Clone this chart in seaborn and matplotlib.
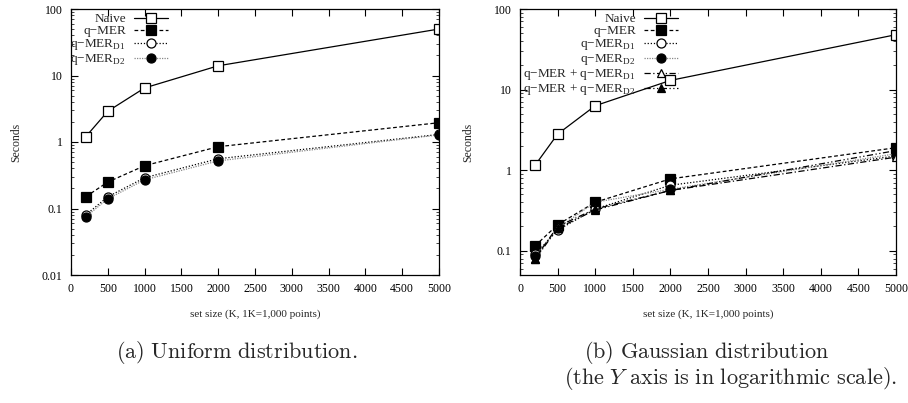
import numpy as np
import pandas as pd
import matplotlib
matplotlib.use("Agg")
import matplotlib.pyplot as plt
import seaborn as sns
from matplotlib.ticker import LogLocator, NullFormatter, FixedLocator

sizes = [200, 500, 1000, 2000, 5000]

# (a) Uniform
uni_naive = [1.2, 2.9, 6.5, 14.0, 50.0]
uni_qmer = [0.15, 0.25, 0.44, 0.85, 1.95]
uni_d1 = [0.08, 0.15, 0.29, 0.56, 1.30]
uni_d2 = [0.075, 0.14, 0.27, 0.52, 1.28]

# (b) Gaussian
gau_naive = [1.15, 2.8, 6.3, 13.0, 48.0]
gau_qmer = [0.115, 0.21, 0.40, 0.78, 1.90]
gau_d1 = [0.09, 0.18, 0.33, 0.65, 1.50]
gau_d2 = [0.085, 0.19, 0.40, 0.58, 1.60]
gau_qd1 = [0.080, 0.20, 0.33, 0.56, 1.45]
gau_qd2 = [0.078, 0.19, 0.32, 0.56, 1.75]

labels = ["Naive", "q\u2212MER", "q\u2212MER$_{\\mathrm{D1}}$", "q\u2212MER$_{\\mathrm{D2}}$",
          "q\u2212MER + q\u2212MER$_{\\mathrm{D1}}$", "q\u2212MER + q\u2212MER$_{\\mathrm{D2}}$"]
xticks = [0, 500, 1000, 1500, 2000, 2500, 3000, 3500, 4000, 4500, 5000]

sns.set_style("ticks")
plt.rcParams["font.family"] = ["Liberation Serif", "DejaVu Serif"]
plt.rcParams["mathtext.fontset"] = "custom"
plt.rcParams["mathtext.rm"] = "Liberation Serif"

styles = [
    dict(linestyle="-", marker="s", mfc="white", color="black"),
    dict(linestyle=(0, (3, 2)), marker="s", mfc="black", color="black"),
    dict(linestyle=(0, (1, 1.5)), marker="o", mfc="white", color="black"),
    dict(linestyle=(0, (1, 1)), marker="o", mfc="black", color="#888888"),
    dict(linestyle=(0, (5, 2, 1, 2)), marker="^", mfc="white", color="black"),
    dict(linestyle=(0, (5, 2, 1, 2, 1, 2)), marker="^", mfc="black", color="black"),
]

fig = plt.figure(figsize=(9.08, 4.03), dpi=100)
W, H = 908, 403
axL = fig.add_axes([71 / W, (H - 275) / H, (439 - 71) / W, (275 - 9) / H])
axR = fig.add_axes([520 / W, (H - 275) / H, (896 - 520) / W, (275 - 9) / H])


def draw(ax, series, ylim, yticks, yticklabels, leg_anchor):
    for i, vals in enumerate(series):
        st = styles[i]
        df = pd.DataFrame({"x": sizes, "y": vals})
        sns.lineplot(data=df, x="x", y="y", ax=ax, color=st["color"], linestyle=st["linestyle"],
                     linewidth=0.9, marker=st["marker"], markersize=6.5 if st["marker"] != "^" else 5.5,
                     markerfacecolor=st["mfc"], markeredgecolor="black", markeredgewidth=0.9,
                     label=labels[i])
    ax.set_yscale("log")
    ax.set_xlim(0, 5000)
    ax.set_ylim(*ylim)
    ax.xaxis.set_major_locator(FixedLocator(xticks))
    ax.set_xticklabels([str(t) for t in xticks])
    ax.yaxis.set_major_locator(FixedLocator(yticks))
    ax.set_yticklabels(yticklabels)
    ax.yaxis.set_minor_locator(LogLocator(base=10, subs=np.arange(2, 10)))
    ax.yaxis.set_minor_formatter(NullFormatter())
    ax.tick_params(axis="both", which="major", direction="in", length=5, width=0.8,
                   top=True, right=True, labelsize=8.5, pad=6, color="black", labelcolor="black")
    ax.tick_params(axis="y", which="minor", direction="in", length=2.5, width=0.6, right=True, left=True)
    for s in ax.spines.values():
        s.set_linewidth(0.9)
        s.set_color("black")
    ax.set_xlabel("set size (K, 1K=1,000 points)", fontsize=8, labelpad=10)
    ax.set_ylabel("Seconds", fontsize=8.5, labelpad=14)
    leg = ax.legend(loc="upper right", bbox_to_anchor=leg_anchor, bbox_transform=fig.transFigure,
                    frameon=False, markerfirst=False, fontsize=9.5, handlelength=2.6,
                    handletextpad=0.6, labelspacing=0.0, borderpad=0, borderaxespad=0)
    for t in leg.get_texts():
        t.set_ha("right")
    leg._legend_box.align = "right"


draw(axL, [uni_naive, uni_qmer, uni_d1, uni_d2], (0.01, 100), [0.01, 0.1, 1, 10, 100],
     ["0.01", "0.1", "1", "10", "100"], (168 / W, 1 - 13 / H))
draw(axR, [gau_naive, gau_qmer, gau_d1, gau_d2, gau_qd1, gau_qd2], (0.05, 100), [0.1, 1, 10, 100],
     ["0.1", "1", "10", "100"], (678 / W, 1 - 13 / H))

cap = dict(fontsize=16, family=["DejaVu Serif"], math_fontfamily="cm")
fig.text(237 / W, 1 - 352 / H, r"$\mathrm{(a)\ Uniform\ distribution.}$", ha="center", va="center", **cap)
fig.text(707 / W, 1 - 352 / H, r"$\mathrm{(b)\ Gaussian\ distribution}$", ha="center", va="center", **cap)
fig.text(731 / W, 1 - 379 / H, r"$\mathrm{(the}\ Y\ \mathrm{axis\ is\ in\ logarithmic\ scale).}$",
         ha="center", va="center", **cap)

fig.savefig("out.png", dpi=100)
